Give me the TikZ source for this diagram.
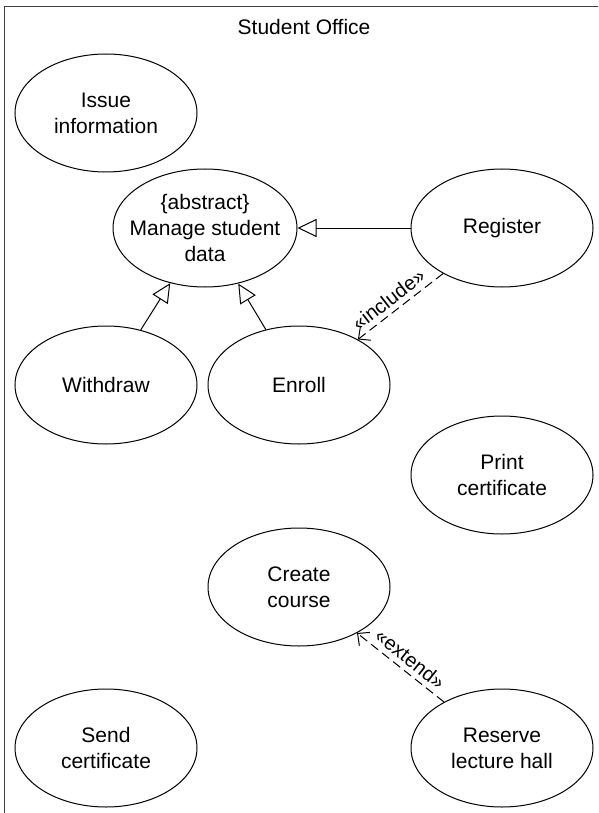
\documentclass[tikz,border=0pt]{standalone}
\usepackage{fontspec}
\setmainfont{Liberation Sans}
\usetikzlibrary{shapes.geometric, arrows.meta}
\begin{document}
\begin{tikzpicture}[x=1pt,y=-1pt,
  uc/.style={draw, ellipse, line width=1pt, minimum width=182pt, minimum height=118pt, inner sep=0pt},
  lbl/.style={align=center, font=\fontsize{21}{26}\selectfont, inner sep=0pt},
  gen/.style={draw, line width=1pt, -{Triangle[open, length=19pt, width=18pt]}},
  dep/.style={draw, line width=1pt, dash pattern=on 9pt off 5pt, -{Straight Barb[length=9pt, width=17pt]}},
  stereo/.style={sloped, above, inner sep=5pt, font=\fontsize{20}{24}\selectfont},
  framel/.style={draw, line width=1.4pt, black!75}
]
\useasboundingbox (0,0) rectangle (598,813);
\coordinate (fbl) at (4.5,813);
\coordinate (ftl) at (4.5,6.5);
\coordinate (ftr) at (598,6.5);
\draw[framel] (fbl) -- (ftl) -- (ftr);
\node[lbl] (title) at (304,27) {Student Office};

\node[uc, label={[lbl]center:{Issue\\information}}] (issue) at (106,113) {};
\node[uc, minimum width=184pt, label={[lbl]center:{\{abstract\}\\Manage student\\data}}] (manage) at (205,228) {};
\node[uc, label={[lbl]center:{Register}}] (register) at (502,228) {};
\node[uc, label={[lbl]center:{Withdraw}}] (withdraw) at (106,385) {};
\node[uc, label={[lbl]center:{Enroll}}] (enroll) at (299,385) {};
\node[uc, label={[lbl]center:{Print\\certificate}}] (print) at (502,475) {};
\node[uc, label={[lbl]center:{Create\\course}}] (create) at (299,587) {};
\node[uc, label={[lbl]center:{Send\\certificate}}] (send) at (106,748) {};
\node[uc, label={[lbl]center:{Reserve\\lecture hall}}] (reserve) at (502,748) {};

\draw[gen] (withdraw) -- (manage);
\draw[gen] (enroll) -- (manage);
\draw[gen] (register) -- (manage);
\draw[dep] (register) -- node[stereo, pos=0.55] {«include»} (enroll);
\draw[dep] (reserve) -- node[stereo, pos=0.48] {«extend»} (create);
\end{tikzpicture}
\end{document}
